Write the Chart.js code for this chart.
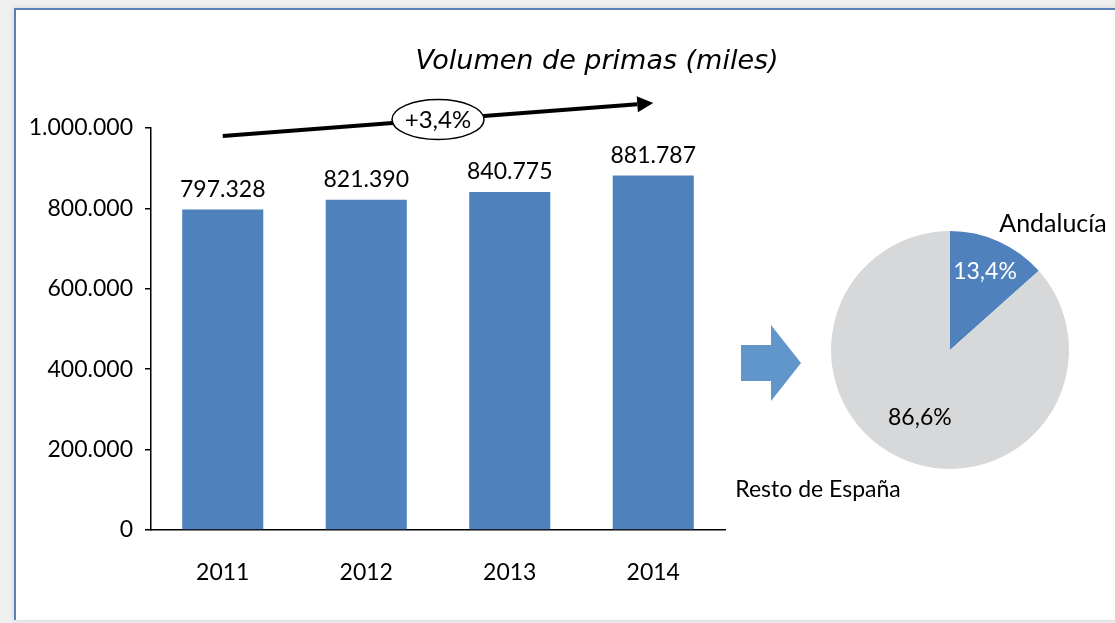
<!DOCTYPE html>
<html>
<head>
<meta charset="utf-8">
<script src="https://cdn.jsdelivr.net/npm/chart.js@4.4.1/dist/chart.umd.min.js"></script>
<style>
    html, body { margin: 0; padding: 0; }
    body { width: 1115px; height: 623px; background: #f0f0f0; position: relative; overflow: hidden; }
    #frame {
        position: absolute; left: 14px; top: 8px; width: 1120px; height: 610px;
        background: #fff;
        border-top: 2px solid #5a7fb4; border-left: 2px solid #5a7fb4;
        box-shadow: 0 0 6px rgba(0,0,0,0.12);
    }
    #bars { position: absolute; left: 0; top: 0; }
    #pie { position: absolute; left: 700px; top: 180px; }
</style>
</head>
<body>
<div id="frame"></div>
<canvas id="bars" width="820" height="623"></canvas>
<canvas id="pie" width="415" height="380"></canvas>
<script>
    'use strict';

    // Chart data
    var years = ['2011', '2012', '2013', '2014'];
    var primas = [797328, 821390, 840775, 881787];
    var yTickLabels = ['0', '200.000', '400.000', '600.000', '800.000', '1.000.000'];
    var growth = 3.4;

    var regions = ['Andalucía', 'Resto de España'];
    var shares = [13.4, 86.6];

    var BLUE = '#4f81bd';
    var GREY = '#d7d8da';
    var FONT = 'Lato, "Open Sans", sans-serif';

    function fmtThousands(v) {
        return String(v).replace(/\B(?=(\d{3})+(?!\d))/g, '.');
    }

    function fmtPct(v) {
        return v.toFixed(1).replace('.', ',') + '%';
    }

    /**
     * Bar labels, title and growth arrow
     */
    var barDecor = {
        id: 'barDecor',
        afterDatasetsDraw: function(chart) {
            var ctx = chart.ctx;
            var area = chart.chartArea;
            var meta = chart.getDatasetMeta(0);

            ctx.save();

            // value labels above bars
            ctx.fillStyle = '#000';
            ctx.font = '23px ' + FONT;
            ctx.textAlign = 'center';
            ctx.textBaseline = 'middle';
            meta.data.forEach(function(bar, i) {
                ctx.fillText(fmtThousands(primas[i]), bar.x, bar.y - 20);
            });

            // title
            ctx.font = 'italic 27px "DejaVu Sans", Verdana, sans-serif';
            ctx.fillText('Volumen de primas (miles)', 597, 62);

            // growth arrow from first to last bar
            var x0 = meta.data[0].x, y0 = area.top + 8;
            var x1 = meta.data[meta.data.length - 1].x, y1 = area.top - 25;
            var headLen = 16;
            var ang = Math.atan2(y1 - y0, x1 - x0);
            var bx = x1 - headLen * Math.cos(ang), by = y1 - headLen * Math.sin(ang);

            ctx.strokeStyle = '#000';
            ctx.lineWidth = 4;
            ctx.beginPath();
            ctx.moveTo(x0, y0);
            ctx.lineTo(bx, by);
            ctx.stroke();

            ctx.beginPath();
            ctx.moveTo(x1, y1);
            ctx.lineTo(bx + 8 * Math.sin(ang), by - 8 * Math.cos(ang));
            ctx.lineTo(bx - 8 * Math.sin(ang), by + 8 * Math.cos(ang));
            ctx.closePath();
            ctx.fillStyle = '#000';
            ctx.fill();

            // ellipse with growth label
            var ex = 438, ey = y0 + (ex - x0) * Math.tan(ang);
            ctx.beginPath();
            ctx.ellipse(ex, ey, 46, 20, 0, 0, Math.PI * 2);
            ctx.fillStyle = '#fff';
            ctx.fill();
            ctx.lineWidth = 1.5;
            ctx.stroke();

            ctx.fillStyle = '#000';
            ctx.font = '24px ' + FONT;
            ctx.fillText('+' + fmtPct(growth), ex, ey + 1);

            ctx.restore();
        }
    };

    new Chart(document.getElementById('bars').getContext('2d'), {
        type: 'bar',
        data: {
            labels: years,
            datasets: [{
                data: primas,
                backgroundColor: BLUE,
                borderWidth: 0,
                barPercentage: 0.565,
                categoryPercentage: 1
            }]
        },
        options: {
            responsive: false,
            animation: false,
            layout: { padding: { left: 0, right: 95, top: 128, bottom: 0 } },
            plugins: {
                legend: { display: false },
                tooltip: { enabled: false }
            },
            scales: {
                x: {
                    grid: { display: false, drawTicks: false },
                    border: { display: true, color: '#000', width: 1.5 },
                    ticks: {
                        color: '#000',
                        font: { family: FONT, size: 23 },
                        padding: 29
                    },
                    afterFit: function(axis) { axis.height = 93; }
                },
                y: {
                    min: 0,
                    max: 1000000,
                    grid: {
                        drawOnChartArea: false,
                        drawTicks: true,
                        tickLength: 6,
                        color: '#000',
                        lineWidth: 1.5
                    },
                    border: { display: true, color: '#000', width: 1.5 },
                    ticks: {
                        stepSize: 200000,
                        color: '#000',
                        font: { family: FONT, size: 23 },
                        padding: 12,
                        callback: function(value, index) { return yTickLabels[index]; }
                    },
                    afterFit: function(axis) { axis.width = 151; }
                }
            }
        },
        plugins: [barDecor]
    });

    /**
     * Pie labels and block arrow
     */
    var pieDecor = {
        id: 'pieDecor',
        afterDatasetsDraw: function(chart) {
            var ctx = chart.ctx;
            var meta = chart.getDatasetMeta(0);
            var arc0 = meta.data[0];
            var cx = arc0.x, cy = arc0.y, r = arc0.outerRadius;

            function at(arc, f) {
                var mid = (arc.startAngle + arc.endAngle) / 2;
                return { x: cx + Math.cos(mid) * r * f, y: cy + Math.sin(mid) * r * f };
            }

            ctx.save();
            ctx.textAlign = 'center';
            ctx.textBaseline = 'middle';

            var p = at(meta.data[0], 0.72);
            ctx.fillStyle = '#fff';
            ctx.font = '23px ' + FONT;
            ctx.fillText(fmtPct(shares[0]), p.x, p.y);

            p = at(meta.data[1], 0.62);
            ctx.fillStyle = '#000';
            ctx.fillText(fmtPct(shares[1]), p.x, p.y);

            // category names beside the pie
            ctx.font = '25px ' + FONT;
            ctx.fillText(regions[0], cx + 103, cy - 126);

            ctx.font = '23px ' + FONT;
            ctx.fillText(regions[1], cx - 132, cy + 140);

            // block arrow pointing at the pie
            var ax = cx - r - 90, ay = cy + 13;
            ctx.fillStyle = '#6196cb';
            ctx.beginPath();
            ctx.moveTo(ax, ay - 18);
            ctx.lineTo(ax + 30, ay - 18);
            ctx.lineTo(ax + 30, ay - 38);
            ctx.lineTo(ax + 60, ay);
            ctx.lineTo(ax + 30, ay + 38);
            ctx.lineTo(ax + 30, ay + 18);
            ctx.lineTo(ax, ay + 18);
            ctx.closePath();
            ctx.fill();

            ctx.restore();
        }
    };

    new Chart(document.getElementById('pie').getContext('2d'), {
        type: 'pie',
        data: {
            labels: regions,
            datasets: [{
                data: shares,
                backgroundColor: [BLUE, GREY],
                borderWidth: 0
            }]
        },
        options: {
            responsive: false,
            animation: false,
            layout: { padding: { left: 131, right: 46, top: 51, bottom: 91 } },
            plugins: {
                legend: { display: false },
                tooltip: { enabled: false }
            }
        },
        plugins: [pieDecor]
    });
</script>
</body>
</html>
